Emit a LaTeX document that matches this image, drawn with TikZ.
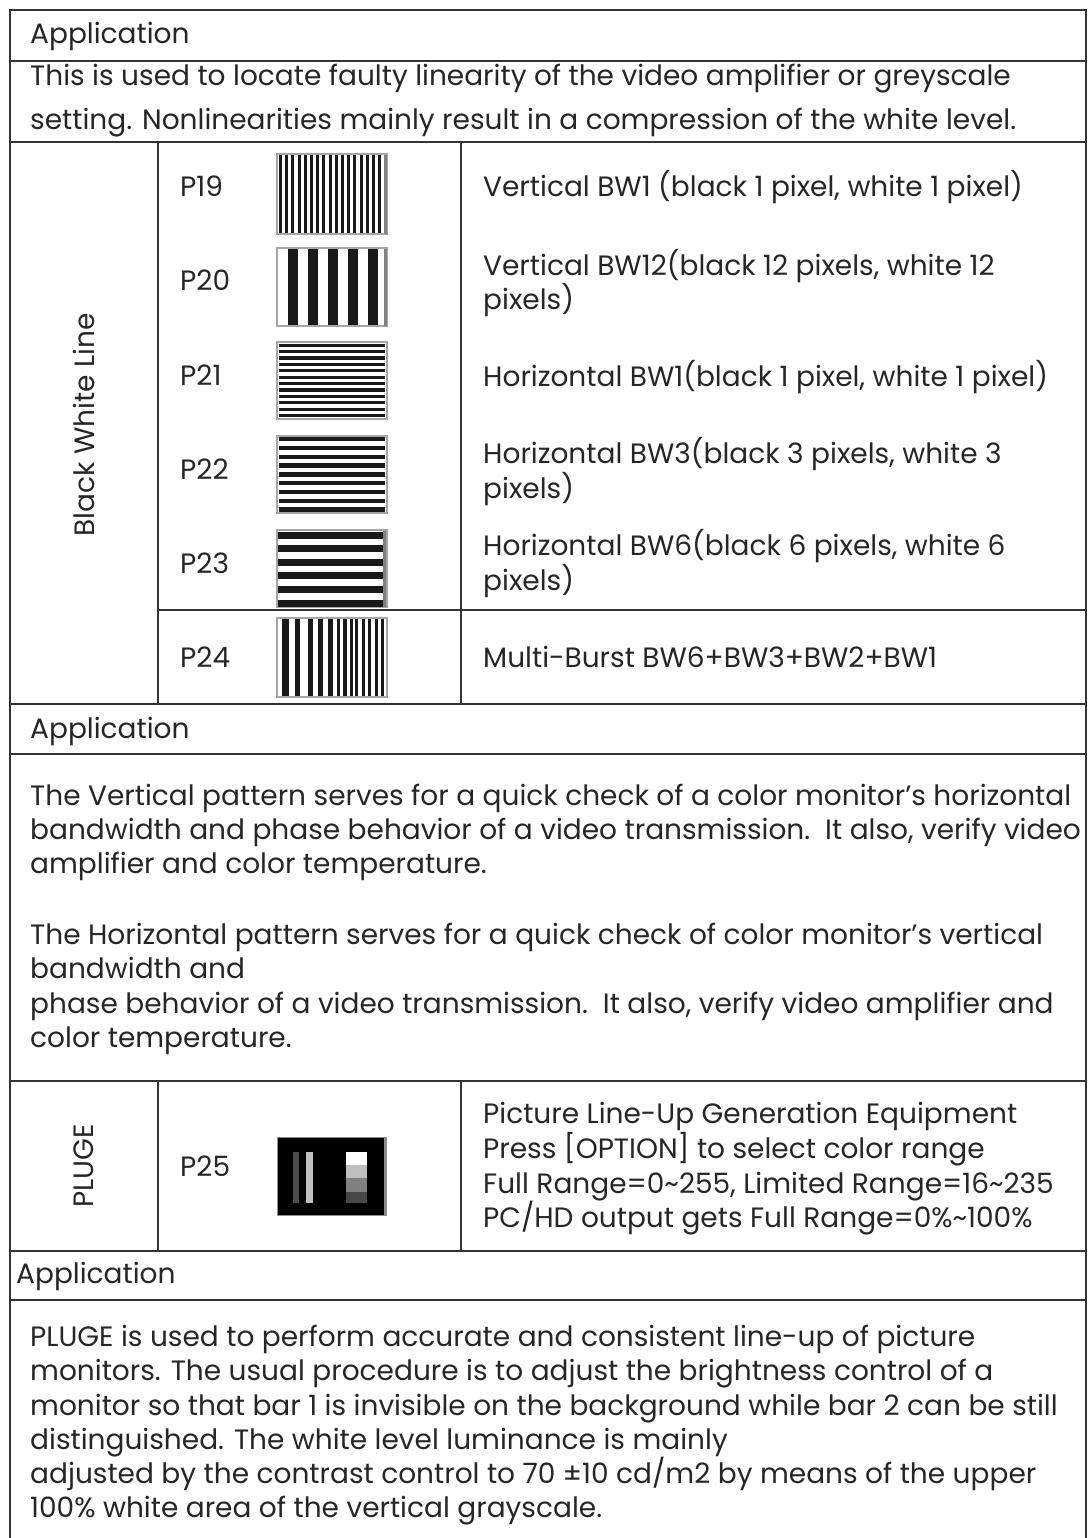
\documentclass[tikz,border=0pt]{standalone}
\usepackage{fontspec}
\setmainfont{Poppins}
\begin{document}
\begin{tikzpicture}[x=1pt,y=-1pt,
  rule/.style={line width=1.8pt, draw=black!80},
  txt/.style={anchor=base west, inner sep=0pt, text=black!85, font=\fontsize{28}{34}\selectfont},
  vtxt/.style={txt, anchor=center, rotate=90},
  thumbframe/.style={draw=black!35, line width=1.4pt, fill=white},
  ink/.style={fill=black!90},
]
\useasboundingbox (0,0) rectangle (1089,1538);

% ---------- table rules ----------
\draw[rule] (10,1538) -- (10,10) -- (1086,10) -- (1086,1538);
\draw[rule] (10,61) -- (1086,61);
\draw[rule] (10,142) -- (1086,142);
\draw[rule] (158,610) -- (1086,610);
\draw[rule] (10,704) -- (1086,704);
\draw[rule] (10,754) -- (1086,754);
\draw[rule] (10,1081) -- (1086,1081);
\draw[rule] (10,1251) -- (1086,1251);
\draw[rule] (10,1300) -- (1086,1300);
\draw[rule] (158,142) -- (158,704);
\draw[rule] (461,142) -- (461,704);
\draw[rule] (158,1081) -- (158,1251);
\draw[rule] (461,1081) -- (461,1251);

% ---------- first block ----------
\node[txt] (app1) at (30,44) {Application};
\node[txt] (d1a) at (30,86) {This is used to locate faulty linearity of the video amplifier or greyscale};
\node[txt] (d1b) at (30,130) {setting. Nonlinearities mainly result in a compression of the white level.};

\node[vtxt] (bwl) at (84,425) {Black White Line};

\node[txt] (p19) at (180,197) {P19};
\node[txt] (p20) at (180,290) {P20};
\node[txt] (p21) at (180,385) {P21};
\node[txt] (p22) at (180,479) {P22};
\node[txt] (p23) at (180,573) {P23};
\node[txt] (p24) at (180,667) {P24};

\node[txt] (t19) at (483,197) {Vertical BW1 (black 1 pixel, white 1 pixel)};
\node[txt] (t20a) at (483,275) {Vertical BW12(black 12 pixels, white 12};
\node[txt] (t20b) at (483,309) {pixels)};
\node[txt] (t21) at (483,386) {Horizontal BW1(black 1 pixel, white 1 pixel)};
\node[txt] (t22a) at (483,463) {Horizontal BW3(black 3 pixels, white 3};
\node[txt] (t22b) at (483,498) {pixels)};
\node[txt] (t23a) at (483,555) {Horizontal BW6(black 6 pixels, white 6};
\node[txt] (t23b) at (483,590) {pixels)};
\node[txt] (t24) at (483,667) {Multi-Burst BW6+BW3+BW2+BW1};

% P19: vertical 1-pixel lines
\draw[thumbframe] (277,154) rectangle (387,234);
\foreach \i in {0,...,16} \fill[ink] ({279+6.2*\i},155) rectangle ++(3,78);
\fill[black!50] (384,155) rectangle (387,234);

% P20: vertical 12-pixel bars
\draw[thumbframe] (277,248) rectangle (387,326);
\foreach \i in {0,...,4} \fill[ink] ({288+20*\i},249) rectangle ++(9.6,76);
\fill[black!50] (384,249) rectangle (387,326);

% P21: horizontal 1-pixel lines
\draw[thumbframe] (277,342) rectangle (387,419);
\foreach \i in {0,...,11} \fill[ink] (279,{343.5+6.4*\i}) rectangle ++(106,3.2);

% P22: horizontal 3-pixel lines
\draw[thumbframe] (277,436) rectangle (387,513);
\foreach \i in {0,...,8} \fill[ink] (279,{437+8.8*\i}) rectangle ++(106,4.4);

% P23: horizontal 6-pixel bars
\draw[thumbframe] (277,530) rectangle (387,607);
\foreach \i in {0,...,5} \fill[ink] (278,{531.5+13.6*\i}) rectangle ++(105,7);
\fill[black!50] (383,531) rectangle (386,607);

% P24: multi-burst
\draw[thumbframe] (277,618) rectangle (387,697);
\foreach \a/\w in {282/6.5,295/5,308/5,318/5,328/5,336.5/3,343/3.5,349.5/3,355/3,361.5/3,368/3,374.5/3,380.5/3}
  \fill[ink] (\a,619) rectangle ++(\w,77);

% ---------- second block ----------
\node[txt] (app2) at (30,738) {Application};
\node[txt] (d2a) at (30,805) {The Vertical pattern serves for a quick check of a color monitor’s horizontal};
\node[txt] (d2b) at (30,839) {bandwidth and phase behavior of a video transmission.\ \ It also, verify video};
\node[txt] (d2c) at (30,873) {amplifier and color temperature.};
\node[txt] (d2d) at (30,944) {The Horizontal pattern serves for a quick check of color monitor’s vertical};
\node[txt] (d2e) at (30,978) {bandwidth and};
\node[txt] (d2f) at (30,1013) {phase behavior of a video transmission.\ \ It also, verify video amplifier and};
\node[txt] (d2g) at (30,1047) {color temperature.};

% ---------- PLUGE block ----------
\node[vtxt] (plg) at (84,1166) {PLUGE};
\node[txt] (p25) at (180,1176) {P25};
\node[txt] (t25a) at (483,1123) {Picture Line-Up Generation Equipment};
\node[txt] (t25b) at (483,1158) {Press [OPTION] to select color range};
\node[txt] (t25c) at (483,1193) {Full Range=0\textasciitilde255, Limited Range=16\textasciitilde235};
\node[txt] (t25d) at (483,1227) {PC/HD output gets Full Range=0\%\textasciitilde100\%};

% P25: pluge pattern
\fill[black!45] (277,1137) rectangle (387,1216);
\fill[black] (278,1138) rectangle (384,1215);
\fill[black!70] (293,1152) rectangle (299,1203);
\fill[black!25] (306,1152) rectangle (313,1203);
\fill[white] (346,1152) rectangle (367,1165);
\fill[black!25] (346,1165) rectangle (367,1178);
\fill[black!50] (346,1178) rectangle (367,1192);
\fill[black!72] (346,1192) rectangle (367,1203);

% ---------- third block ----------
\node[txt] (app3) at (16,1283) {Application};
\node[txt] (d3a) at (30,1346) {PLUGE is used to perform accurate and consistent line-up of picture};
\node[txt] (d3b) at (30,1380) {monitors. The usual procedure is to adjust the brightness control of a};
\node[txt] (d3c) at (30,1415) {monitor so that bar 1 is invisible on the background while bar 2 can be still};
\node[txt] (d3d) at (30,1449) {distinguished. The white level luminance is mainly};
\node[txt] (d3e) at (30,1483) {adjusted by the contrast control to 70 ±10 cd/m2 by means of the upper};
\node[txt] (d3f) at (30,1517) {100\% white area of the vertical grayscale.};
\end{tikzpicture}
\end{document}
